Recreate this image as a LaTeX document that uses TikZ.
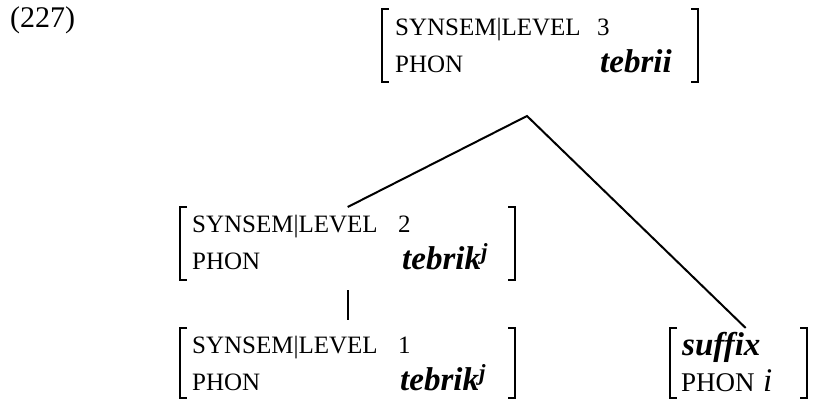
\documentclass[tikz,border=0pt]{standalone}
\usepackage{fontspec}
\setmainfont{Liberation Serif}

\begin{document}
\begin{tikzpicture}[x=1pt, y=-1pt,
				avm/.style={rectangle, inner sep=0pt, anchor=north west},
				feat/.style={anchor=base west, inner sep=0pt, font=\fontsize{25}{30}\selectfont},
				val/.style={anchor=base west, inner sep=0pt, font=\fontsize{33}{38}\selectfont\bfseries\itshape},
				bracket/.style={line width=2pt},
				branch/.style={line width=2pt}
				]
				\useasboundingbox (0,0) rectangle (815,399);
				
				\node[anchor=base west, inner sep=0pt, font=\fontsize{30}{36}\selectfont] (ex) at (10,27) {(227)};
				
				% mother
				\node[avm, minimum width=316pt, minimum height=73pt] (avm3) at (382,9) {};
				\node[feat] (avm3-f1) at (395,35) {SYNSEM|LEVEL};
				\node[feat] (avm3-v1) at (597,35) {3};
				\node[feat] (avm3-f2) at (395,72) {PHON};
				\node[val] (avm3-v2) at (600,72) {tebrii};
				
				% stem, level 2
				\node[avm, minimum width=335pt, minimum height=73pt] (avm2) at (180,207) {};
				\node[feat] (avm2-f1) at (192,232) {SYNSEM|LEVEL};
				\node[feat] (avm2-v1) at (398,232) {2};
				\node[feat] (avm2-f2) at (192,269) {PHON};
				\node[val] (avm2-v2) at (402,269) {tebrik\textsuperscript{j}};
				
				% stem, level 1
				\node[avm, minimum width=335pt, minimum height=70pt] (avm1) at (180,328) {};
				\node[feat] (avm1-f1) at (192,353) {SYNSEM|LEVEL};
				\node[feat] (avm1-v1) at (398,353) {1};
				\node[feat] (avm1-f2) at (192,390) {PHON};
				\node[val] (avm1-v2) at (400,390) {tebrik\textsuperscript{j}};
				
				% suffix
				\node[avm, minimum width=137pt, minimum height=70pt] (sfx) at (670,328) {};
				\node[val] (sfx-t) at (682,355) {suffix};
				\node[feat, font=\fontsize{27}{32}\selectfont] (sfx-f) at (681,391) {PHON};
				\node[val, font=\fontsize{33}{38}\selectfont\itshape] (sfx-v) at (763,391) {i};
				
				\foreach \n in {avm3, avm2, avm1, sfx} {
					\draw[bracket] ([xshift=7pt]\n.north west) -| (\n.south west) -- ++(7,0);
					\draw[bracket] ([xshift=-7pt]\n.north east) -| (\n.south east) -- ++(-7,0);
				}
				
				\coordinate (apex) at (527,116);
				\draw[branch] (avm2.north) -- (apex) -- ([xshift=7pt]sfx.north);
				\draw[branch] ([yshift=-10pt]avm2.south) -- ([yshift=8pt]avm1.north);
			\end{tikzpicture}
\end{document}
